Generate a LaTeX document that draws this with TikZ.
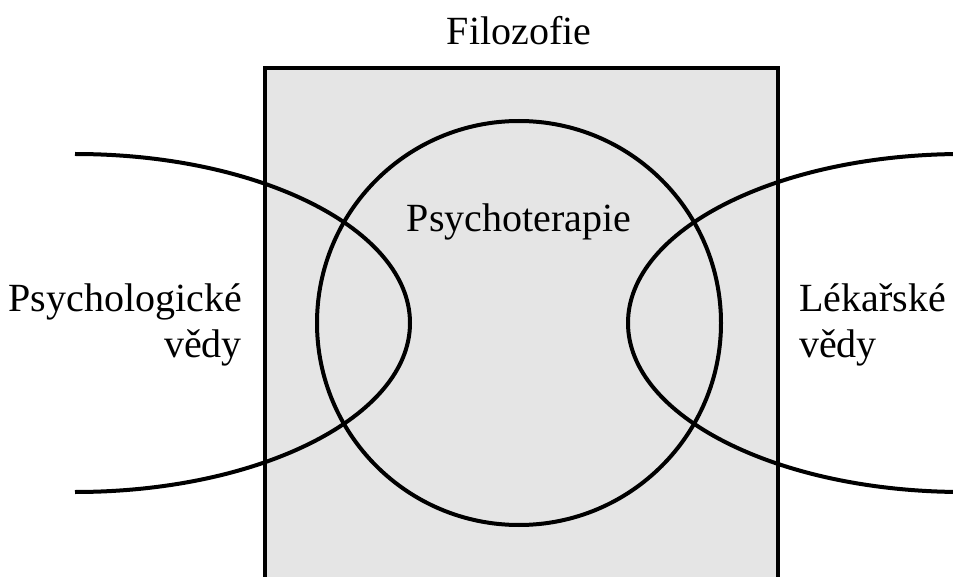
\documentclass[tikz,border=0pt]{standalone}
\usepackage{fontspec}
\setmainfont{Liberation Serif}
\newfontfamily\fa{Liberation Serif}
\tikzset{thick line/.style={line width=4pt,black}}
\begin{document}
\begin{tikzpicture}[x=1pt,y=-1pt]
\useasboundingbox (0,0) rectangle (953,577);
\begin{scope}
\clip (0,0) rectangle (953,577);
\node[draw,thick line,fill=black!10,minimum width=513pt,minimum height=540pt,inner sep=0pt,anchor=north west] (box) at (263,66) {};
\node[draw,thick line,circle,minimum size=404pt,inner sep=0pt] (circ) at (519,323) {};
\draw[thick line] (75,154) arc[start angle=-90,end angle=90,x radius=335,y radius=169];
\draw[thick line] (963,154) arc[start angle=270,end angle=90,x radius=335,y radius=169];
\end{scope}
\node[font=\fa\fontsize{40}{45}\selectfont,inner sep=0pt,anchor=base] (filo) at (519,45) {Filozofie};
\node[font=\fa\fontsize{40}{45}\selectfont,inner sep=0pt,anchor=base] (psy) at (519,232) {Psychoterapie};
\node[font=\fa\fontsize{40}{45}\selectfont,inner sep=0pt,anchor=base east] (pv1) at (242,312) {Psychologické};
\node[font=\fa\fontsize{40}{45}\selectfont,inner sep=0pt,anchor=base east] (pv2) at (242,357) {vědy};
\node[font=\fa\fontsize{40}{45}\selectfont,inner sep=0pt,anchor=base west] (lv1) at (799,312) {Lékařské};
\node[font=\fa\fontsize{40}{45}\selectfont,inner sep=0pt,anchor=base west] (lv2) at (799,357) {vědy};
\end{tikzpicture}
\end{document}
